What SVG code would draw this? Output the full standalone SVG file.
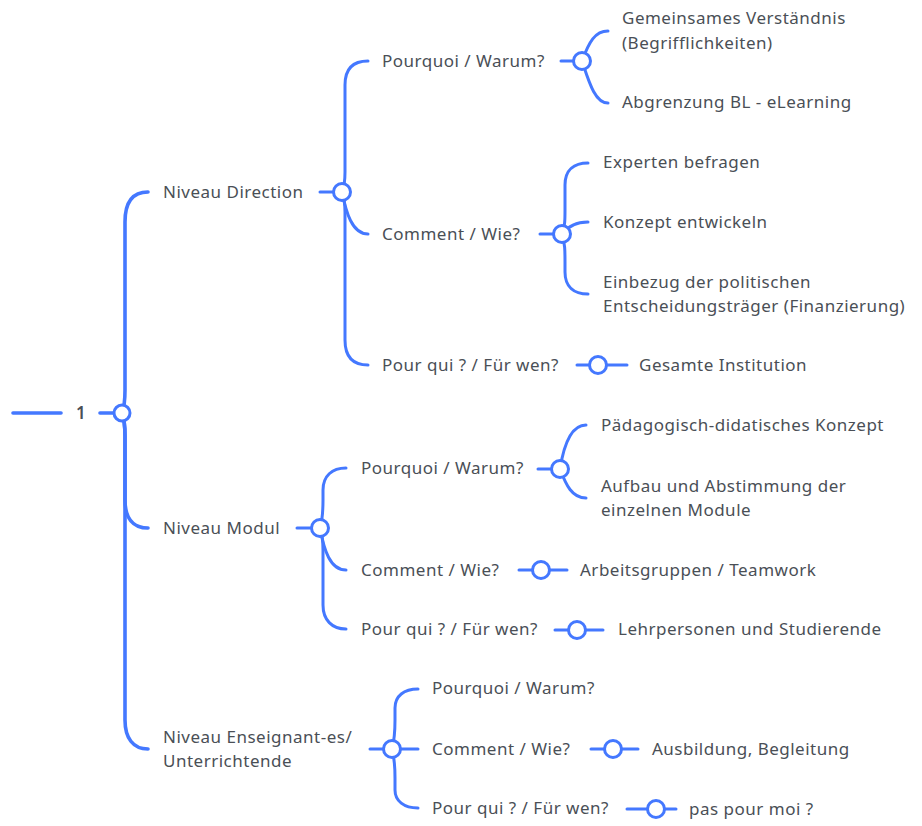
<svg xmlns="http://www.w3.org/2000/svg" width="922" height="826" viewBox="0 0 922 826">
<style>
text{font-family:"Noto Sans","Liberation Sans",sans-serif;font-size:17px;letter-spacing:0.5px;fill:#4a4f56}
.c{fill:none;stroke:#4478ff;stroke-width:3;stroke-linecap:round}
.r{stroke-width:3.6}
.n{fill:#fff;stroke:#4478ff;stroke-width:3}
</style>
<rect width="922" height="826" fill="#fff"/>
<g id="connectors">
<path class="c r" d="M13,413 L61,413"/>
<path class="c r" d="M100,413 L122,413"/>
<path class="c r" d="M122,413 C125,405 125,398 125,390 L125,222 C125,202 133,192 148,192"/>
<path class="c r" d="M122,413 C125,421 125,428 125,436 L125,500 C125,518 133,528 148,528"/>
<path class="c r" d="M122,413 C125,421 125,428 125,436 L125,720 C125,738 133,749 148,749"/>
<path class="c" d="M320,192 L342,192"/>
<path class="c" d="M342,192 C345,185 345,180 345,172 L345,85 C345,70 352,61 368,61"/>
<path class="c" d="M342,192 C346,212 352,234 368,234"/>
<path class="c" d="M342,192 C345,200 345,205 345,212 L345,340 C345,356 352,365 368,365"/>
<path class="c" d="M561,61 L582,61"/>
<path class="c" d="M582,61 C589,42 595,31 608,31"/>
<path class="c" d="M582,61 C589,82 595,103 608,103"/>
<path class="c" d="M540,234 L562,234"/>
<path class="c" d="M562,234 C565,226 565,220 565,210 L565,185 C565,170 574,163 588,163"/>
<path class="c" d="M562,234 C568,226 576,222 588,222"/>
<path class="c" d="M562,234 C565,244 565,250 565,262 L565,272 C565,287 574,294 588,294"/>
<path class="c" d="M577,365 L627,365"/>
<path class="c" d="M297,528 L320,528"/>
<path class="c" d="M320,528 C323,518 323,510 323,500 L323,490 C323,476 332,468 346,468"/>
<path class="c" d="M320,528 C324,550 330,570 346,570"/>
<path class="c" d="M320,528 C323,536 323,542 323,550 L323,605 C323,620 332,629 346,629"/>
<path class="c" d="M538,469 L560,469"/>
<path class="c" d="M560,469 C563,450 570,425 586,425"/>
<path class="c" d="M560,469 C566,485 572,498 586,498"/>
<path class="c" d="M519,570 L567,570"/>
<path class="c" d="M555,630 L603,630"/>
<path class="c" d="M370,749 L418,749"/>
<path class="c" d="M392,749 C395,738 395,730 395,720 L395,708 C395,696 404,689 418,689"/>
<path class="c" d="M392,749 C395,760 395,768 395,778 L395,790 C395,801 404,808 418,808"/>
<path class="c" d="M591,749 L638,749"/>
<path class="c" d="M627,809 L676,809"/>
</g>
<g id="root"><text x="76" y="419" style="font-weight:600">1</text><circle class="n" cx="122" cy="413" r="8"/></g>
<g id="n-direction"><text x="163" y="198">Niveau Direction</text><circle class="n" cx="342" cy="192" r="8.5"/></g>
<g id="n-d-pourquoi"><text x="382" y="67">Pourquoi / Warum?</text><circle class="n" cx="582" cy="61" r="8.5"/></g>
<g id="n-d-gemeinsames"><text x="622" y="24">Gemeinsames Verständnis</text><text x="622" y="49">(Begrifflichkeiten)</text></g>
<g id="n-d-abgrenzung"><text x="622" y="108">Abgrenzung BL - eLearning</text></g>
<g id="n-d-comment"><text x="382" y="240">Comment / Wie?</text><circle class="n" cx="562" cy="234" r="8.5"/></g>
<g id="n-d-experten"><text x="603" y="168">Experten befragen</text></g>
<g id="n-d-konzept"><text x="603" y="228">Konzept entwickeln</text></g>
<g id="n-d-einbezug"><text x="603" y="288">Einbezug der politischen</text><text x="603" y="312">Entscheidungsträger (Finanzierung)</text></g>
<g id="n-d-pourqui"><text x="382" y="371">Pour qui ? / Für wen?</text><circle class="n" cx="598" cy="365" r="8.5"/></g>
<g id="n-d-gesamte"><text x="639" y="371">Gesamte Institution</text></g>
<g id="n-modul"><text x="163" y="534">Niveau Modul</text><circle class="n" cx="320" cy="528" r="8.5"/></g>
<g id="n-m-pourquoi"><text x="361" y="474">Pourquoi / Warum?</text><circle class="n" cx="560" cy="469" r="8.5"/></g>
<g id="n-m-paed"><text x="601" y="431">Pädagogisch-didatisches Konzept</text></g>
<g id="n-m-aufbau"><text x="601" y="492">Aufbau und Abstimmung der</text><text x="601" y="516">einzelnen Module</text></g>
<g id="n-m-comment"><text x="361" y="576">Comment / Wie?</text><circle class="n" cx="541" cy="570" r="8.5"/></g>
<g id="n-m-arbeit"><text x="580" y="576">Arbeitsgruppen / Teamwork</text></g>
<g id="n-m-pourqui"><text x="361" y="635">Pour qui ? / Für wen?</text><circle class="n" cx="577" cy="630" r="8.5"/></g>
<g id="n-m-lehr"><text x="618" y="635">Lehrpersonen und Studierende</text></g>
<g id="n-enseignant"><text x="163" y="743">Niveau Enseignant-es/</text><text x="163" y="767">Unterrichtende</text><circle class="n" cx="392" cy="749" r="8.5"/></g>
<g id="n-e-pourquoi"><text x="432" y="694">Pourquoi / Warum?</text></g>
<g id="n-e-comment"><text x="432" y="755">Comment / Wie?</text><circle class="n" cx="613" cy="749" r="8.5"/></g>
<g id="n-e-ausbildung"><text x="652" y="755">Ausbildung, Begleitung</text></g>
<g id="n-e-pourqui"><text x="432" y="814">Pour qui ? / Für wen?</text><circle class="n" cx="656" cy="809" r="8.5"/></g>
<g id="n-e-pas"><text x="689" y="815">pas pour moi ?</text></g>
</svg>
